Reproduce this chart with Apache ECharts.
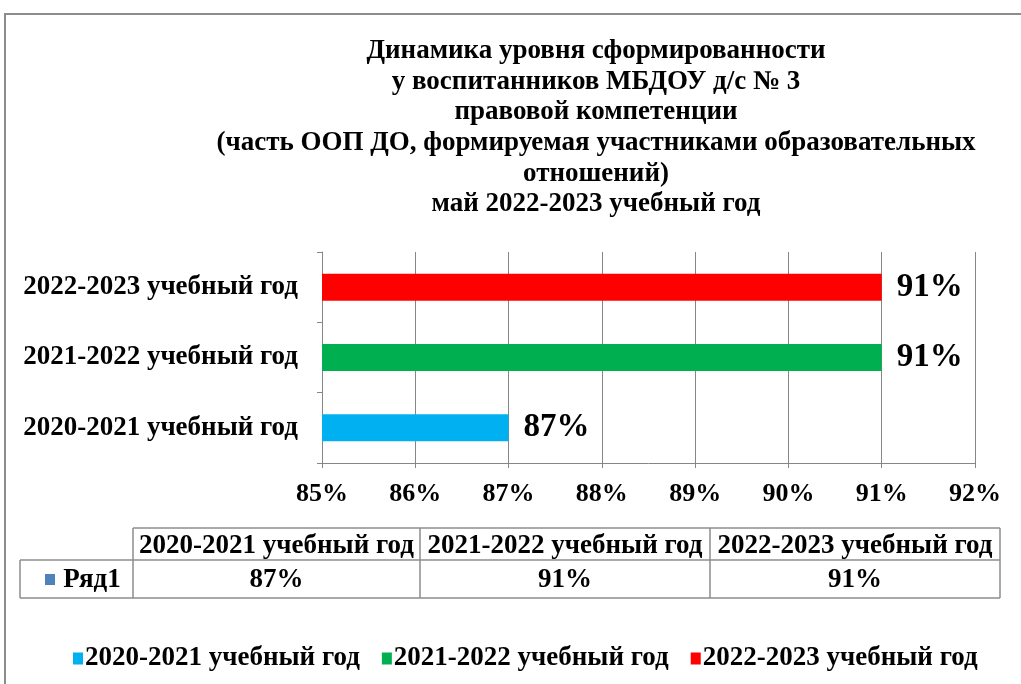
<!DOCTYPE html>
<html>
<head>
<meta charset="utf-8">
<script src="https://cdn.jsdelivr.net/npm/echarts@6/dist/echarts.min.js"></script>
<style>
  html, body { margin: 0; padding: 0; background: #fff; }
  #chart { width: 1021px; height: 684px; }
</style>
</head>
<body>
<div id="chart"></div>
<script>
// data
const categories = ["2020-2021 учебный год", "2021-2022 учебный год", "2022-2023 учебный год"];
const values = [87, 91, 91];
const barColors = ["#00B0F0", "#00B050", "#FF0000"];
const seriesName = "Ряд1";
const titleLines = [
  "Динамика уровня сформированности",
  "у воспитанников МБДОУ д/с № 3",
  "правовой компетенции",
  "(часть ООП ДО, формируемая участниками образовательных",
  "отношений)",
  "май 2022-2023 учебный год"
];

const font = "Liberation Serif";
const chart = echarts.init(document.getElementById("chart"));

// one series per year so that the legend shows each year with its colour
const series = categories.map((name, i) => ({
  name: name,
  type: "bar",
  barWidth: 27,
  barGap: "-100%",
  itemStyle: { color: barColors[i] },
  label: {
    show: true,
    position: "right",
    distance: 15,
    formatter: "{c}%",
    fontFamily: font,
    fontWeight: "bold",
    fontSize: 33,
    color: "#000"
  },
  data: categories.map((c, j) => (j === i ? values[i] : "-"))
}));

// data table under the axis
const colX = [133, 420, 710, 1000];
const tableTop = 528, rowH = [32, 38];
const line = (x1, y1, x2, y2) => ({
  type: "line",
  shape: { x1, y1, x2, y2 },
  style: { stroke: "#8c8c8c", lineWidth: 1.5 }
});
const txt = (x, y, text, size) => ({
  type: "text",
  x, y,
  style: {
    text, fill: "#000", fontFamily: font, fontWeight: "bold", fontSize: size,
    align: "center", verticalAlign: "middle"
  }
});
const table = [];
table.push(line(colX[0], tableTop, colX[3], tableTop));
table.push(line(20, tableTop + rowH[0], colX[3], tableTop + rowH[0]));
table.push(line(20, tableTop + rowH[0] + rowH[1], colX[3], tableTop + rowH[0] + rowH[1]));
colX.forEach(x => table.push(line(x, tableTop, x, tableTop + rowH[0] + rowH[1])));
table.push(line(20, tableTop + rowH[0], 20, tableTop + rowH[0] + rowH[1]));
categories.forEach((c, i) => {
  const cx = (colX[i] + colX[i + 1]) / 2;
  table.push(txt(cx, tableTop + rowH[0] / 2 + 2, c, 27));
  table.push(txt(cx, tableTop + rowH[0] + rowH[1] / 2 + 1, values[i] + "%", 27));
});
table.push({
  type: "rect",
  shape: { x: 45, y: tableTop + rowH[0] + 14, width: 10, height: 11 },
  style: { fill: "#4F81BD" }
});
table.push(txt(92, tableTop + rowH[0] + rowH[1] / 2 + 1, seriesName, 27));

chart.setOption({
  animation: false,
  backgroundColor: "#fff",
  title: {
    text: titleLines.join("\n"),
    left: 591,
    top: 31,
    textAlign: "center",
    textStyle: {
      fontFamily: font,
      fontWeight: "bold",
      fontSize: 27,
      lineHeight: 30.6,
      color: "#000"
    }
  },
  legend: {
    top: 640,
    left: 68,
    icon: "rect",
    itemWidth: 10,
    itemHeight: 12,
    itemGap: 22,
    textStyle: { fontFamily: font, fontWeight: "bold", fontSize: 27, color: "#000", padding: [0, 0, 0, -3] },
    data: categories
  },
  grid: { left: 322, right: 46, top: 252, bottom: 221 },
  xAxis: {
    type: "value",
    min: 85,
    max: 92,
    interval: 1,
    axisLine: { show: true, lineStyle: { color: "#868686" } },
    axisTick: { show: true, length: 5, lineStyle: { color: "#868686" } },
    splitLine: { show: true, lineStyle: { color: "#868686" } },
    axisLabel: {
      formatter: "{value}%",
      margin: 18,
      fontFamily: font,
      fontWeight: "bold",
      fontSize: 26,
      color: "#000"
    }
  },
  yAxis: {
    type: "category",
    data: categories,
    axisLine: { show: true, lineStyle: { color: "#868686" } },
    axisTick: { show: true, length: 5, lineStyle: { color: "#868686" } },
    axisLabel: {
      margin: 24,
      fontFamily: font,
      fontWeight: "bold",
      fontSize: 27,
      color: "#000"
    }
  },
  series: series,
  graphic: [
    {
      type: "rect",
      shape: { x: 5, y: 14, width: 1040, height: 700 },
      style: { fill: null, stroke: "#8c8c8c", lineWidth: 2 }
    },
    ...table
  ]
});
</script>
</body>
</html>
